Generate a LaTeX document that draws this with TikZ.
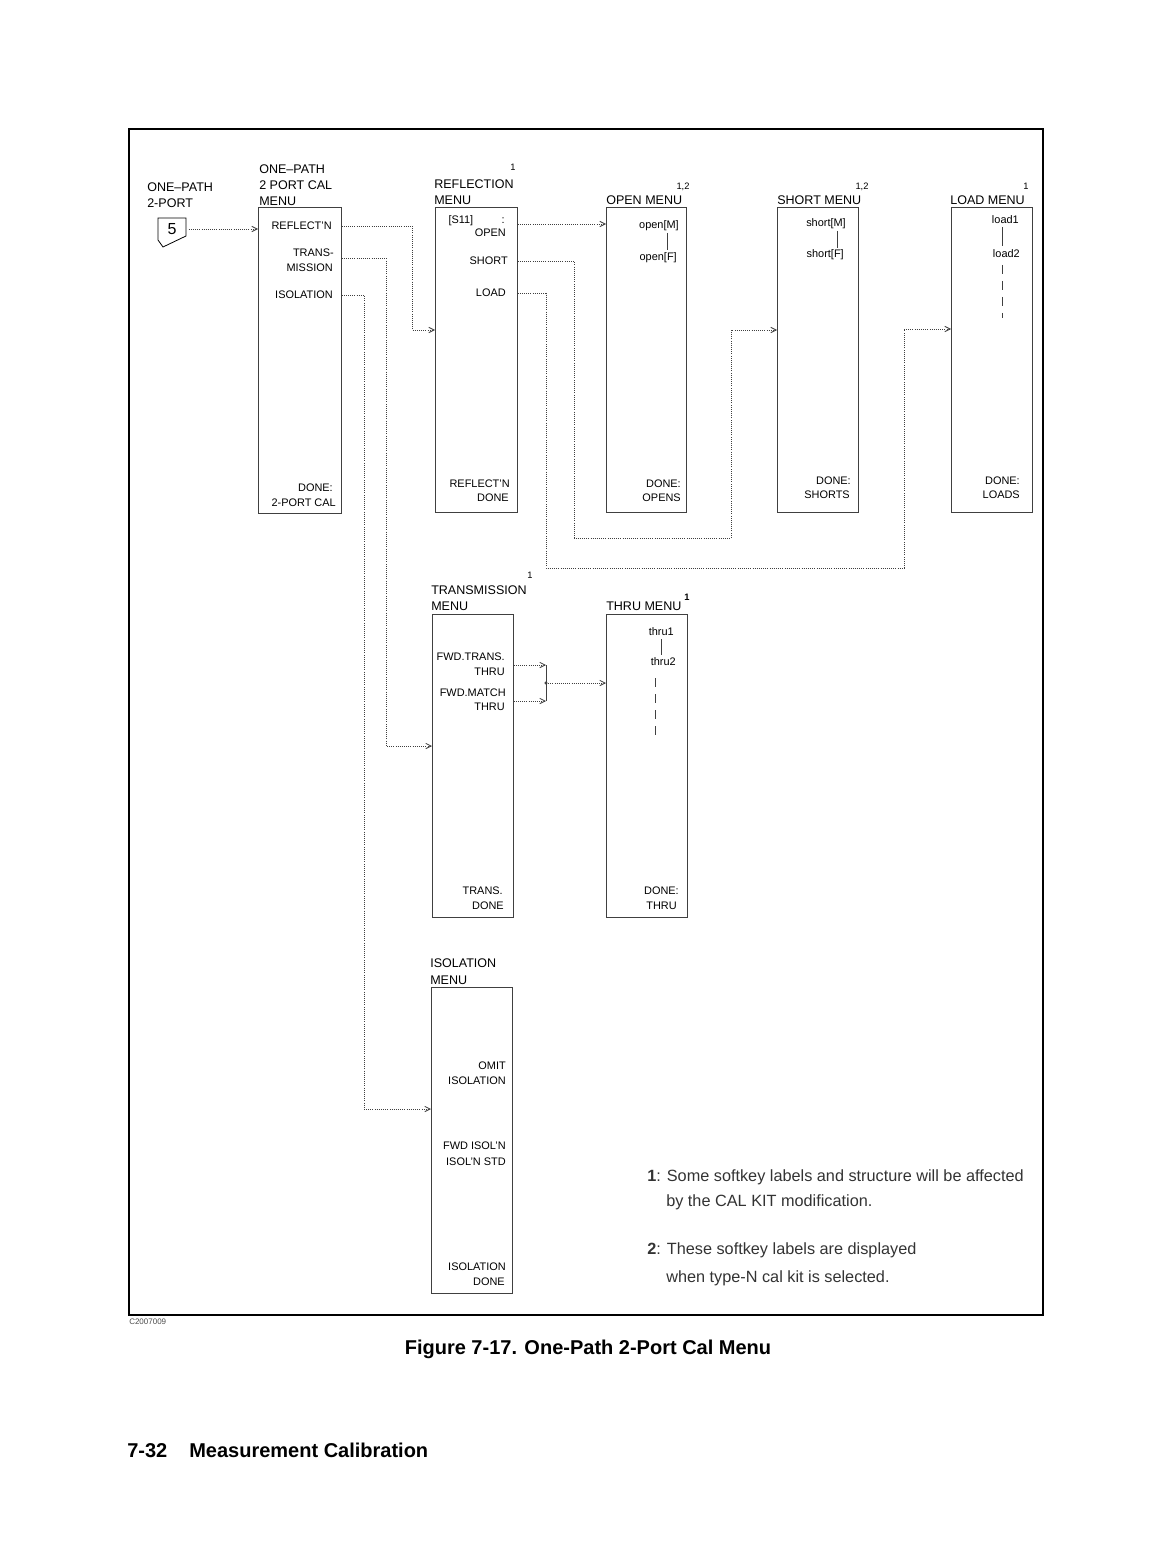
\documentclass[tikz,border=0pt]{standalone}
\usepackage{fontspec}
\setmainfont{Liberation Sans}
\usetikzlibrary{arrows.meta}
\begin{document}
\begin{tikzpicture}[x=0.75pt,y=-0.75pt,
  menubox/.style={draw=black!75, line width=0.5pt, anchor=north west, inner sep=0pt},
  conn/.style={draw=black!75, densely dotted, line width=0.6pt},
  arr/.style={-{Straight Barb[length=4pt,width=4pt]}},
  lbl/.style={anchor=east, inner sep=0pt, font=\fontsize{8.2}{9}\selectfont},
  ttl/.style={anchor=west, inner sep=0pt, font=\fontsize{9.4}{10}\selectfont},
  supl/.style={inner sep=0pt, font=\fontsize{7}{8}\selectfont},
  tick/.style={draw=black!75, line width=0.5pt},
  note/.style={anchor=west, inner sep=0pt, font=\fontsize{12.2}{13}\selectfont, text=black!80},
]
\useasboundingbox (0,0) rectangle (1176,1544);
\draw[line width=1pt] (129,129) rectangle (1043,1315);

% entry
\node[ttl] (entry1) at (147,187) {ONE–PATH};
\node[ttl] (entry2) at (147,203) {2-PORT};
\draw[line width=0.6pt] (158,218) -- (186,218) -- (186,236) -- (163,247) -- (158,240) -- cycle;
\node[inner sep=0pt, font=\fontsize{12}{12}\selectfont] (badge) at (172,229) {5};

% menu 1
\node[menubox, minimum width=83*0.75pt, minimum height=306*0.75pt] (m1) at (258,207) {};
\node[ttl] at (259,169) {ONE–PATH};
\node[ttl] at (259,185) {2 PORT CAL};
\node[ttl] at (259,201) {MENU};
\node[lbl] (m1r) at (332,226) {REFLECT'N};
\node[lbl] (m1t) at (334,253) {TRANS-};
\node[lbl] (m1m) at (333,268) {MISSION};
\node[lbl] (m1i) at (333,295) {ISOLATION};
\node[lbl] at (333,488) {DONE:};
\node[lbl] at (336,503) {2-PORT CAL};

% menu 2 reflection
\node[menubox, minimum width=82*0.75pt, minimum height=305*0.75pt] (m2) at (435,207) {};
\node[supl] at (513,167) {1};
\node[ttl] at (434,184) {REFLECTION};
\node[ttl] at (434,200) {MENU};
\node[lbl] (m2s11) at (505,221) {[S11]\hspace{2.6em}:};
\node[lbl] (m2o) at (506,233) {OPEN};
\node[lbl] (m2s) at (508,261) {SHORT};
\node[lbl] (m2l) at (506,293) {LOAD};
\node[lbl] at (510,484) {REFLECT'N};
\node[lbl] at (509,498) {DONE};

% menu 3 open
\node[menubox, minimum width=80*0.75pt, minimum height=305*0.75pt] (m3) at (606,207) {};
\node[supl] at (683,187) {1,2};
\node[ttl] at (606,200) {OPEN MENU};
\node[lbl] (m3a) at (679,226) {open[M]};
\node[lbl] (m3b) at (677,258) {open[F]};
\draw[tick] (667,233) -- (667,250);
\node[lbl] at (681,484) {DONE:};
\node[lbl] at (681,498) {OPENS};

% menu 4 short
\node[menubox, minimum width=81*0.75pt, minimum height=305*0.75pt] (m4) at (777,207) {};
\node[supl] at (862,187) {1,2};
\node[ttl] at (777,200) {SHORT MENU};
\node[lbl] (m4a) at (846,224) {short[M]};
\node[lbl] (m4b) at (844,255) {short[F]};
\draw[tick] (837,231) -- (837,248);
\node[lbl] at (851,481) {DONE:};
\node[lbl] at (850,495) {SHORTS};

% menu 5 load
\node[menubox, minimum width=81*0.75pt, minimum height=305*0.75pt] (m5) at (951,207) {};
\node[supl] at (1026,186) {1};
\node[ttl] at (950,200) {LOAD MENU};
\node[lbl] (m5a) at (1019,220) {load1};
\node[lbl] (m5b) at (1020,254) {load2};
\draw[tick] (1002,227) -- (1002,246);
\draw[tick, dash pattern=on 7pt off 5pt] (1002,265) -- (1002,318);
\node[lbl] at (1020,481) {DONE:};
\node[lbl] at (1020,495) {LOADS};

% menu 6 transmission
\node[menubox, minimum width=81*0.75pt, minimum height=303*0.75pt] (m6) at (432,614) {};
\node[supl] at (530,575) {1};
\node[ttl] at (431,590) {TRANSMISSION};
\node[ttl] at (431,606) {MENU};
\node[lbl] (m6a) at (505,657) {FWD.TRANS.};
\node[lbl] (m6b) at (505,672) {THRU};
\node[lbl] (m6c) at (506,693) {FWD.MATCH};
\node[lbl] (m6d) at (505,707) {THRU};
\node[lbl] at (503,891) {TRANS.};
\node[lbl] at (504,906) {DONE};

% menu 7 thru
\node[menubox, minimum width=81*0.75pt, minimum height=303*0.75pt] (m7) at (606,614) {};
\node[supl, font=\bfseries\fontsize{7}{8}\selectfont] at (687,597) {1};
\node[ttl] at (606,606) {THRU MENU};
\node[lbl] (m7a) at (674,632) {thru1};
\node[lbl] (m7b) at (676,662) {thru2};
\draw[tick] (661,639) -- (661,655);
\draw[tick, dash pattern=on 7pt off 5pt] (655,678) -- (655,735);
\node[lbl] at (679,891) {DONE:};
\node[lbl] at (677,906) {THRU};

% menu 8 isolation
\node[menubox, minimum width=81*0.75pt, minimum height=306*0.75pt] (m8) at (431,987) {};
\node[ttl] at (430,963) {ISOLATION};
\node[ttl] at (430,980) {MENU};
\node[lbl] at (506,1066) {OMIT};
\node[lbl] at (506,1081) {ISOLATION};
\node[lbl] at (506,1146) {FWD ISOL'N};
\node[lbl] at (506,1162) {ISOL'N STD};
\node[lbl] at (506,1267) {ISOLATION};
\node[lbl] at (505,1282) {DONE};

% connectors
\draw[conn, arr] (badge.east) ++(12,0) -- (m1.west |- badge);
\draw[conn, arr] (m1.east |- m1r) -- (412,226) -- (412,330) -- (m2.west |- 0,330);
\draw[conn, arr] (m1.east |- 0,258) -- (386,258) -- (386,746) -- (m6.west |- 0,746);
\draw[conn, arr] (m1.east |- m1i) -- (364,295) -- (364,1109) -- (m8.west |- 0,1109);
\draw[conn, arr] (m2.east |- 0,224) -- (m3.west |- 0,224);
\draw[conn, arr] (m2.east |- m2s) -- (574,261) -- (574,538) -- (731,538) -- (731,330) -- (m4.west |- 0,330);
\draw[conn, arr] (m2.east |- m2l) -- (546,293) -- (546,568) -- (904,568) -- (904,329) -- (m5.west |- 0,329);
\coordinate (br1) at (546,665);
\coordinate (br2) at (546,701);
\coordinate (brm) at (546,683);
\draw[conn, arr] (m6.east |- br1) -- (br1);
\draw[conn, arr] (m6.east |- br2) -- (br2);
\draw[tick] (br1) -- (br2);
\draw[conn, arr] (brm) -- (m7.west |- brm);
\draw[line width=0.4pt, fill=white] (brm) circle (1.3);

% notes
\node[note] (n1) at (647,1177) {\textbf{1}: Some softkey labels and structure will be affected};
\node[note] at (666,1202) {by the CAL KIT modification.};
\node[note] (n2) at (647,1250) {\textbf{2}: These softkey labels are displayed};
\node[note] at (666,1278) {when type-N cal kit is selected.};

\node[anchor=west, inner sep=0pt, font=\fontsize{6}{7}\selectfont, text=black!70] at (129,1322) {C2007009};
\node[inner sep=0pt, font=\bfseries\fontsize{15}{17}\selectfont] (cap) at (588,1349) {Figure 7-17. One-Path 2-Port Cal Menu};
\node[anchor=west, inner sep=0pt, font=\bfseries\fontsize{15}{17}\selectfont] (foot) at (127,1450) {7-32\hspace{1.1em}Measurement Calibration};
\end{tikzpicture}
\end{document}
